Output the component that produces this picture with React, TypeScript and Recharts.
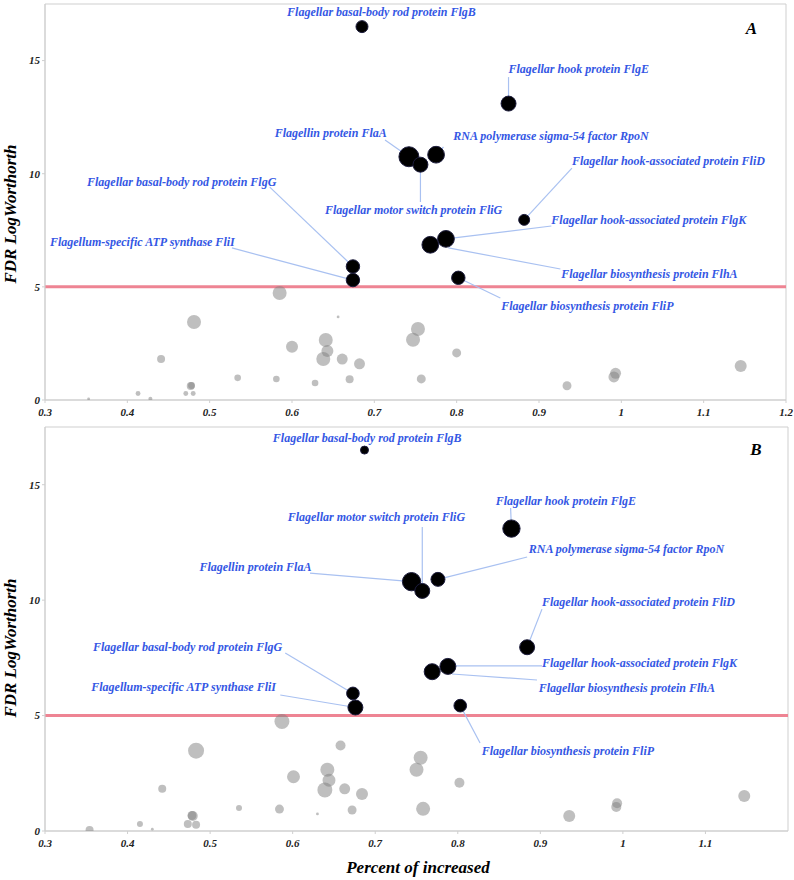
import React from 'react';
import { ScatterChart, Scatter, XAxis, YAxis, ZAxis, ReferenceLine, ReferenceArea } from 'recharts';

// ---------- shared ----------
const proteins = [
  'Flagellar basal-body rod protein FlgB',
  'Flagellar hook protein FlgE',
  'Flagellin protein FlaA',
  'Flagellar motor switch protein FliG',
  'RNA polymerase sigma-54 factor RpoN',
  'Flagellar hook-associated protein FliD',
  'Flagellar hook-associated protein FlgK',
  'Flagellar biosynthesis protein FlhA',
  'Flagellar biosynthesis protein FliP',
  'Flagellar basal-body rod protein FlgG',
  'Flagellum-specific ATP synthase FliI',
];
const xTicksA = [0.3, 0.4, 0.5, 0.6, 0.7, 0.8, 0.9, 1, 1.1, 1.2];
const xTicksB = [0.3, 0.4, 0.5, 0.6, 0.7, 0.8, 0.9, 1, 1.1];
const yTicks = [0, 5, 10, 15];
const threshold = 5;
const panelNames = ['A', 'B'];

// ---------- panel A ----------
const aPercent = [0.685, 0.863, 0.742, 0.756, 0.775, 0.882, 0.787, 0.768, 0.802, 0.674, 0.674];
const aLogWorth = [16.5, 13.1, 10.75, 10.4, 10.84, 7.96, 7.12, 6.86, 5.4, 5.9, 5.3];
const aWeight = [36, 56, 100, 56, 70, 30, 70, 70, 45, 45, 45];

const aOtherPercent = [0.585, 0.481, 0.656, 0.641, 0.6, 0.643, 0.638, 0.661, 0.682, 0.441, 0.534, 0.581, 0.628, 0.67, 0.477, 0.478, 0.471, 0.48, 0.413, 0.428, 0.353, 0.753, 0.747, 0.8, 0.757, 0.934, 0.993, 0.991, 1.145];
const aOtherLogWorth = [4.73, 3.45, 3.67, 2.65, 2.35, 2.17, 1.81, 1.81, 1.6, 1.81, 0.98, 0.93, 0.75, 0.92, 0.62, 0.64, 0.29, 0.29, 0.29, 0.06, 0.05, 3.14, 2.66, 2.08, 0.93, 0.63, 1.18, 1.02, 1.5];
const aOtherWeight = [49, 49, 2, 49, 36, 36, 49, 30, 30, 16, 11, 11, 11, 16, 16, 12, 6, 6, 6, 4, 2, 49, 49, 20, 20, 20, 30, 30, 36];

// annotation anchors (data units)
const aLabelX = [0.594, 0.863, 0.579, 0.64, 0.796, 0.94, 0.915, 0.927, 0.854, 0.351, 0.306];
const aLabelY = [16.97, 14.45, 11.62, 8.22, 11.49, 10.38, 7.78, 5.39, 3.98, 9.46, 6.8];
const aLeaderFromX = [null, 0.863, 0.742, 0.756, 0.775, 0.882, 0.787, 0.79, 0.802, 0.674, 0.674];
const aLeaderFromY = [null, 13.1, 10.75, 10.4, 10.84, 7.96, 7.12, 6.72, 5.4, 5.9, 5.3];
const aLeaderToX = [null, 0.863, 0.713, 0.756, 0.784, 0.94, 0.915, 0.926, 0.853, 0.573, 0.527];
const aLeaderToY = [null, 14.27, 11.49, 8.75, 11.18, 10.25, 7.69, 5.79, 4.51, 9.41, 6.72];
const aLetterAt = [1.158, 16.17];

// ---------- panel B ----------
const bPercent = [0.687, 0.865, 0.744, 0.757, 0.776, 0.884, 0.788, 0.769, 0.803, 0.673, 0.676];
const bLogWorth = [16.5, 13.1, 10.8, 10.4, 10.9, 7.96, 7.13, 6.9, 5.43, 5.96, 5.35];
const bWeight = [16, 75, 84, 56, 49, 56, 64, 64, 40, 40, 56];

const bOtherPercent = [0.587, 0.483, 0.658, 0.642, 0.601, 0.644, 0.639, 0.663, 0.684, 0.442, 0.535, 0.584, 0.63, 0.672, 0.479, 0.478, 0.473, 0.483, 0.415, 0.43, 0.354, 0.755, 0.75, 0.802, 0.758, 0.935, 0.993, 0.992, 1.147];
const bOtherLogWorth = [4.74, 3.48, 3.7, 2.65, 2.35, 2.2, 1.78, 1.83, 1.6, 1.83, 1.0, 0.95, 0.74, 0.91, 0.65, 0.67, 0.3, 0.27, 0.3, 0.08, 0.04, 3.17, 2.65, 2.09, 0.96, 0.65, 1.2, 1.04, 1.52];
const bOtherWeight = [56, 64, 25, 49, 42, 42, 56, 30, 36, 16, 9, 20, 2, 20, 25, 20, 16, 16, 9, 2, 16, 49, 49, 25, 49, 36, 25, 25, 36];

const bLabelX = [0.576, 0.846, 0.487, 0.594, 0.886, 0.902, 0.902, 0.898, 0.829, 0.358, 0.356];
const bLabelY = [16.85, 14.12, 11.26, 13.43, 12.04, 9.74, 7.1, 6.02, 3.29, 7.8, 6.06];
const bLeaderFromX = [null, 0.865, 0.744, 0.757, 0.776, 0.884, 0.797, 0.793, 0.803, 0.673, 0.676];
const bLeaderFromY = [null, 13.1, 10.8, 10.4, 10.9, 7.96, 7.15, 6.8, 5.43, 5.96, 5.35];
const bLeaderToX = [null, 0.864, 0.621, 0.757, 0.884, 0.902, 0.902, 0.896, 0.827, 0.591, 0.585];
const bLeaderToY = [null, 13.99, 11.17, 13.17, 11.87, 9.61, 7.15, 6.54, 3.81, 7.71, 5.89];
const bLetterAt = [1.161, 16.28];

// ---------- styling ----------
const SERIF = "'Liberation Serif', 'Times New Roman', 'DejaVu Serif', serif";
const LABEL_BLUE = '#3457e4';
const LEADER_BLUE = '#a9c1f1';
const FRAME = '#cfcfcf';

const build = (xs: number[], ys: number[], ws: number[], names?: string[]) =>
  xs.map((x, i) => ({ x, y: ys[i], z: ws[i], name: names ? names[i] : '' }));

const buildLabels = (xs: number[], ys: number[]) =>
  xs.map((x, i) => ({ x, y: ys[i], text: proteins[i] }));

const buildLeaders = (fx: (number | null)[], fy: (number | null)[], tx: (number | null)[], ty: (number | null)[]) =>
  fx
    .map((v, i) => (v == null ? null : [{ x: v, y: fy[i] as number }, { x: tx[i] as number, y: ty[i] as number }]))
    .filter((s) => s != null) as { x: number; y: number }[][];

const LabelShape = (props: any) => {
  const { cx, cy, payload } = props;
  return (
    <text x={cx} y={cy} fill={LABEL_BLUE} fontFamily={SERIF} fontWeight="bold" fontStyle="italic" fontSize={12} textAnchor="start">
      {payload.text}
    </text>
  );
};

const LetterShape = (props: any) => {
  const { cx, cy, payload } = props;
  return (
    <text x={cx} y={cy} fill="#000" fontFamily={SERIF} fontWeight="bold" fontStyle="italic" fontSize={17} textAnchor="middle">
      {payload.text}
    </text>
  );
};

const tickStyle = { fontFamily: SERIF, fontWeight: 'bold', fontStyle: 'italic', fontSize: 11, fill: '#222' } as any;

type PanelProps = {
  top: number;
  height: number;
  marginRight: number;
  xAxisHeight: number;
  xTicks: number[];
  main: any[];
  others: any[];
  labels: any[];
  leaders: { x: number; y: number }[][];
  letter: any[];
  yTitleCenter: number;
  showXTitle: boolean;
};

const Panel = (p: PanelProps) => (
  <div style={{ position: 'absolute', left: 0, top: p.top }}>
    <ScatterChart width={794} height={p.height} margin={{ top: 4, right: p.marginRight, bottom: 0, left: 0 }}>
      <XAxis
        type="number"
        dataKey="x"
        domain={[0.3, 1.2]}
        ticks={p.xTicks}
        allowDataOverflow
        height={p.xAxisHeight}
        tick={tickStyle}
        tickSize={3}
        tickMargin={5}
        tickFormatter={(v: number) => String(v)}
        axisLine={{ stroke: FRAME }}
        tickLine={{ stroke: FRAME }}
        label={
          p.showXTitle
            ? {
                content: () => (
                  <text x={418} y={450} textAnchor="middle" fontFamily={SERIF} fontWeight="bold" fontStyle="italic" fontSize={17} fill="#000">
                    Percent of increased
                  </text>
                ),
              }
            : undefined
        }
      />
      <YAxis
        type="number"
        dataKey="y"
        domain={[0, 17.5]}
        ticks={yTicks}
        allowDataOverflow
        width={45}
        tick={tickStyle}
        tickSize={3}
        tickMargin={2}
        axisLine={{ stroke: FRAME }}
        tickLine={{ stroke: FRAME }}
        label={{
          content: () => (
            <text
              x={16}
              y={p.yTitleCenter}
              transform={`rotate(-90, 16, ${p.yTitleCenter})`}
              textAnchor="middle"
              fontFamily={SERIF}
              fontWeight="bold"
              fontStyle="italic"
              fontSize={17}
              fill="#000"
            >
              FDR LogWorthorth
            </text>
          ),
        }}
      />
      <ZAxis type="number" dataKey="z" domain={[0, 100]} range={[0, 100 * Math.PI]} />
      <ReferenceArea x1={0.3} x2={1.2} y1={0} y2={17.5} fill="none" stroke={FRAME} strokeWidth={1} ifOverflow="visible" />
      <ReferenceLine y={threshold} stroke="#ee8493" strokeWidth={3} />
      {p.leaders.map((seg, i) => (
        <ReferenceLine key={i} segment={seg} stroke={LEADER_BLUE} strokeWidth={1.2} ifOverflow="visible" />
      ))}
      <Scatter data={p.others} fill="#808080" fillOpacity={0.5} isAnimationActive={false} />
      <Scatter data={p.main} fill="#000000" stroke="#1c1c3c" strokeWidth={1} isAnimationActive={false} />
      <Scatter data={p.labels} shape={LabelShape} isAnimationActive={false} />
      <Scatter data={p.letter} shape={LetterShape} isAnimationActive={false} />
    </ScatterChart>
  </div>
);

export default function App() {
  const aMain = build(aPercent, aLogWorth, aWeight, proteins);
  const aOthers = build(aOtherPercent, aOtherLogWorth, aOtherWeight);
  const bMain = build(bPercent, bLogWorth, bWeight, proteins);
  const bOthers = build(bOtherPercent, bOtherLogWorth, bOtherWeight);
  return (
    <div style={{ position: 'absolute', left: 0, top: 0, width: 794, height: 880, background: '#fff' }}>
      <Panel
        top={0}
        height={420}
        marginRight={8}
        xAxisHeight={20}
        xTicks={xTicksA}
        main={aMain}
        others={aOthers}
        labels={buildLabels(aLabelX, aLabelY)}
        leaders={buildLeaders(aLeaderFromX, aLeaderFromY, aLeaderToX, aLeaderToY)}
        letter={[{ x: aLetterAt[0], y: aLetterAt[1], text: panelNames[0] }]}
        yTitleCenter={214}
        showXTitle={false}
      />
      <Panel
        top={423}
        height={457}
        marginRight={6}
        xAxisHeight={49}
        xTicks={xTicksB}
        main={bMain}
        others={bOthers}
        labels={buildLabels(bLabelX, bLabelY)}
        leaders={buildLeaders(bLeaderFromX, bLeaderFromY, bLeaderToX, bLeaderToY)}
        letter={[{ x: bLetterAt[0], y: bLetterAt[1], text: panelNames[1] }]}
        yTitleCenter={225}
        showXTitle={true}
      />
    </div>
  );
}
